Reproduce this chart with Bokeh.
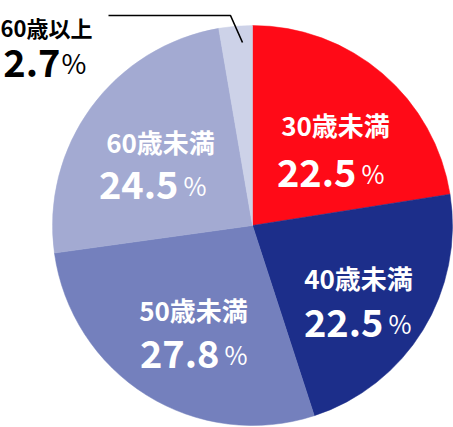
import math
from bokeh.plotting import figure
from bokeh.models import Range1d, ColumnDataSource
from bokeh.core.properties import value
from bokeh.embed import file_html
from bokeh.resources import INLINE

# ---- data ----
categories = ["30歳未満", "40歳未満", "50歳未満", "60歳未満", "60歳以上"]
shares = [22.5, 22.5, 27.8, 24.5, 2.7]
colors = ["#FF0A17", "#1C2E8A", "#7480BD", "#A3AAD2", "#CDD2E8"]

# ---- layout (reference pixel coordinates; y measured downward) ----
CX, CY, R = 252, 225, 200
label_x = [335, 358, 193, 160, 46]
label_base = [124, 277, 309, 141, 26]
num_right = [356, 383, 219, 178, 60]
num_base = [172, 322, 353, 184, 62]
pct_gap = [5, 5, 5, 5, 1]
text_colors = ["white", "white", "white", "white", "black"]
label_sizes = ["26px", "26px", "26px", "26px", "22px"]
pct_sizes = ["25px", "25px", "25px", "25px", "27px"]

total = sum(shares)
starts, ends = [], []
cum = 0.0
for s in shares:
    starts.append(math.pi / 2 - 2 * math.pi * cum / total)
    cum += s
    ends.append(math.pi / 2 - 2 * math.pi * cum / total)

W, H = 453, 427
p = figure(width=W, height=H, output_backend="svg", toolbar_location=None,
           x_range=Range1d(0, W), y_range=Range1d(-H, 0),
           min_border=0, min_border_left=0, min_border_right=0,
           min_border_top=0, min_border_bottom=0)
p.axis.visible = False
p.grid.visible = False
p.outline_line_color = None
p.background_fill_color = "white"
p.border_fill_color = "white"

src = ColumnDataSource(dict(x=[CX] * len(shares), y=[-CY] * len(shares),
                            start=starts, end=ends, color=colors))
p.wedge(x="x", y="y", radius=R, start_angle="start", end_angle="end",
        direction="clock", fill_color="color", line_color="color",
        line_width=0.5, source=src)

# leader line for the small slice
p.line(x=[108, 230, 242], y=[-15, -15, -42], line_color="black", line_width=1.6)

font = value("Noto Sans CJK JP")
lab = ColumnDataSource(dict(
    x=label_x, y=[-v for v in label_base], text=categories,
    color=text_colors, size=label_sizes))
p.text(x="x", y="y", text="text", source=lab, text_font=font,
       text_font_size="size", text_font_style="bold", text_color="color",
       text_align="center", text_baseline="alphabetic")

num = ColumnDataSource(dict(
    x=num_right, y=[-v for v in num_base], text=[f"{s:.1f}" for s in shares],
    color=text_colors))
p.text(x="x", y="y", text="text", source=num, text_font=font,
       text_font_size="38px", text_font_style="bold", text_color="color",
       text_align="right", text_baseline="alphabetic")

pct = ColumnDataSource(dict(
    x=[a + g for a, g in zip(num_right, pct_gap)], y=[-v for v in num_base],
    text=["%"] * len(shares), color=text_colors, size=pct_sizes))
p.text(x="x", y="y", text="text", source=pct, text_font=font,
       text_font_size="size", text_font_style="normal", text_color="color",
       text_align="left", text_baseline="alphabetic")

open("out.html", "w").write(file_html(p, INLINE))
